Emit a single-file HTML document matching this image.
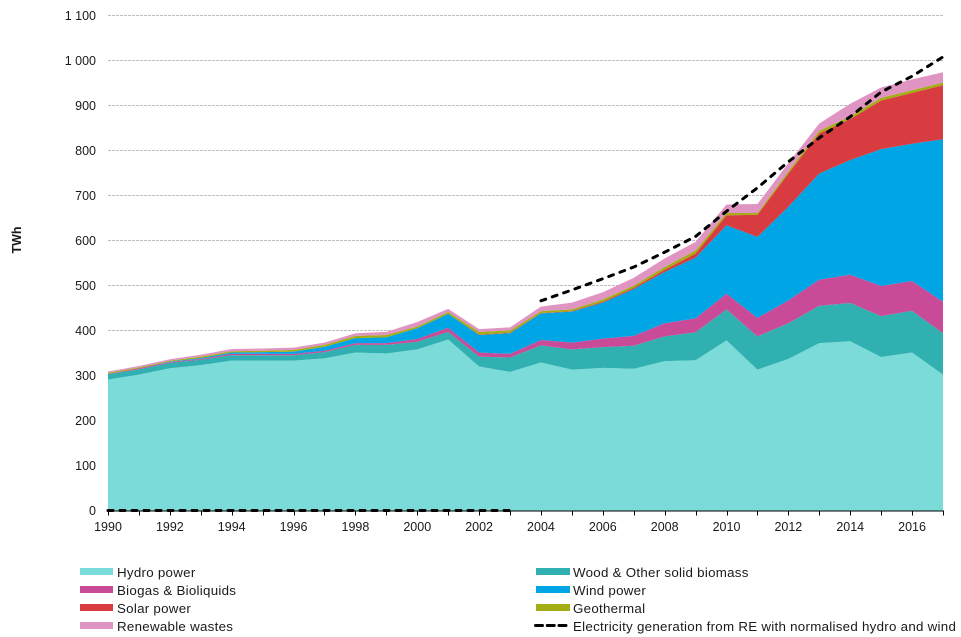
<!DOCTYPE html>
<html lang="en">
<head>
<meta charset="utf-8">
<title>Renewable electricity generation</title>
<style>
html,body{margin:0;padding:0;background:#fff;width:961px;height:637px;overflow:hidden}
svg{display:block;font-family:"Liberation Sans",Arial,sans-serif}
text{fill:#1a1a1a}
.lg{font-size:13.33px;letter-spacing:.27px}
.tk{font-size:12.5px}
</style>
</head>
<body>
<svg id="chart" xmlns="http://www.w3.org/2000/svg" width="961" height="637" viewBox="0 0 961 637">
  <g id="grid"></g>
  <g id="areas"></g>
  <g id="axes"></g>
  <g id="lines"></g>
  <text transform="translate(21,240) rotate(-90)" text-anchor="middle" font-size="12.5" font-weight="bold">TWh</text>
  <g>
    <g><rect x="80" y="568" width="33" height="7" fill="#7adbd9"/><text class="lg" x="117" y="577">Hydro power</text></g>
    <g><rect x="80" y="586" width="33" height="7" fill="#c94a96"/><text class="lg" x="117" y="595">Biogas &amp; Bioliquids</text></g>
    <g><rect x="80" y="604" width="33" height="7" fill="#d83c41"/><text class="lg" x="117" y="613">Solar power</text></g>
    <g><rect x="80" y="622" width="33" height="7" fill="#e094c2"/><text class="lg" x="117" y="631">Renewable wastes</text></g>
    <g><rect x="536" y="568" width="34" height="7" fill="#30b0b0"/><text class="lg" x="573" y="577">Wood &amp; Other solid biomass</text></g>
    <g><rect x="536" y="586" width="34" height="7" fill="#00a5e5"/><text class="lg" x="573" y="595">Wind power</text></g>
    <g><rect x="536" y="604" width="34" height="7" fill="#a5ad14"/><text class="lg" x="573" y="613">Geothermal</text></g>
    <g><line x1="535.5" y1="625.5" x2="566" y2="625.5" stroke="#000" stroke-width="3" stroke-linecap="round" stroke-dasharray="7 4.75"/><text class="lg" x="573" y="631">Electricity generation from RE with normalised hydro and wind</text></g>
  </g>
</svg>
<script>
const years = [1990,1991,1992,1993,1994,1995,1996,1997,1998,1999,2000,2001,2002,2003,2004,2005,2006,2007,2008,2009,2010,2011,2012,2013,2014,2015,2016,2017];
const hydro = [291,302,316,323,333,333,333,338,351,349,358,380,320,308,329,313,317,315,332,334,378,313,337,372,376,341,351,302];
const wood = [12,12,12,12,12,12,12,14,17,19,17,17,22,32,38,45,46,51,55,62,69,74,79,83,85,91,93,92];
const biogas = [1,2,2,2,3,3,3,3,4,4,6,9,9,8,12,15,19,22,29,31,35,41,51,58,63,67,66,70];
const wind = [0,0,1,2,3,4,5,9,11,13,24,31,39,46,59,69,80,104,114,135,152,180,208,236,255,304,305,361];
const solar = [0,0,0,0,0,0,0,0,0,0,0,0,1,1,1,1,2,3,5,9,22,49,74,89,91,108,113,120];
const geothermal = [2,2,2,3,3,3,4,4,5,5,4,4,6,5,4,4,5,5,6,7,5,4,5,6,6,6,6,6];
const wastes = [3,3,3,4,5,5,5,5,6,7,10,7,6,7,10,15,16,17,19,19,19,20,18,16,28,23,24,23];
const generation = [0,0,0,0,0,0,0,0,0,0,0,0,0,0,466,490,515,541,574,609,665,717,775,828,875,930,965,1008];
const yTicks = [0,100,200,300,400,500,600,700,800,900,1000,1100];
const yTickLabels = ["0","100","200","300","400","500","600","700","800","900","1 000","1 100"];
const xTickLabels = [1990,1992,1994,1996,1998,2000,2002,2004,2006,2008,2010,2012,2014,2016];

const NS = 'http://www.w3.org/2000/svg';
const xScale = function(year){ return 108 + (year - 1990) * (835 / 27); };
const yScale = function(v){ return 510.5 - v * (495 / 1100); };
const make = function(tag, parent){ const el = document.createElementNS(NS, tag); parent.appendChild(el); return el; };

const gridG = document.getElementById('grid');
yTicks.forEach(function(t, i){
  if (t !== 0) {
    const g = make('line', gridG);
    
    
    g.setAttribute('x1', 108); g.setAttribute('x2', 943);
    g.setAttribute('y1', Math.floor(yScale(t)) + 0.5); g.setAttribute('y2', Math.floor(yScale(t)) + 0.5);
    g.setAttribute('stroke', '#bdbdbd'); g.setAttribute('stroke-dasharray', '3 1');
  }
  const lab = make('text', gridG);
  
  
  lab.setAttribute('class', 'tk');
  lab.setAttribute('x', 96); lab.setAttribute('y', yScale(t) + 4.5);
  lab.setAttribute('text-anchor', 'end');
  lab.textContent = yTickLabels[i];
});

const layers = [
  {name:'area-hydro', values:hydro, color:'#7adbd9'},
  {name:'area-wood', values:wood, color:'#30b0b0'},
  {name:'area-biogas', values:biogas, color:'#c94a96'},
  {name:'area-wind', values:wind, color:'#00a5e5'},
  {name:'area-solar', values:solar, color:'#d83c41'},
  {name:'area-geothermal', values:geothermal, color:'#a5ad14'},
  {name:'area-wastes', values:wastes, color:'#e094c2'}
];
const areasG = document.getElementById('areas');
let base = years.map(function(){ return 0; });
layers.forEach(function(layer){
  const top = base.map(function(b, i){ return b + layer.values[i]; });
  const upper = years.map(function(y, i){ return xScale(y).toFixed(2) + ',' + yScale(top[i]).toFixed(2); });
  const lower = years.map(function(y, i){ return xScale(y).toFixed(2) + ',' + yScale(base[i]).toFixed(2); }).reverse();
  const p = make('polygon', areasG);
  
  
  p.setAttribute('points', upper.concat(lower).join(' '));
  p.setAttribute('fill', layer.color);
  base = top;
});

const axesG = document.getElementById('axes');
const axisLine = make('line', axesG);


axisLine.setAttribute('x1', 108); axisLine.setAttribute('x2', 944);
axisLine.setAttribute('y1', 511); axisLine.setAttribute('y2', 511);
axisLine.setAttribute('stroke', '#000');
years.forEach(function(y){
  const tick = make('line', axesG);
  
  
  const x = Math.round(xScale(y)) + 0.5;
  tick.setAttribute('x1', x); tick.setAttribute('x2', x);
  tick.setAttribute('y1', 511); tick.setAttribute('y2', 515.5);
  tick.setAttribute('stroke', '#000');
});
xTickLabels.forEach(function(y){
  const lab = make('text', axesG);
  
  
  lab.setAttribute('class', 'tk');
  lab.setAttribute('x', xScale(y)); lab.setAttribute('y', 531);
  lab.setAttribute('text-anchor', 'middle');
  lab.textContent = y;
});

const linesG = document.getElementById('lines');
const segments = [];
generation.forEach(function(v, i){
  const startsNew = i === 0 || (generation[i - 1] === 0 && v !== 0);
  if (startsNew) { segments.push([]); }
  segments[segments.length - 1].push(xScale(years[i]).toFixed(2) + ',' + yScale(v).toFixed(2));
});
segments.forEach(function(seg){
  const l = make('polyline', linesG);
  
  
  l.setAttribute('points', seg.join(' '));
  l.setAttribute('fill', 'none');
  l.setAttribute('stroke', '#000');
  l.setAttribute('stroke-width', '3');
  l.setAttribute('stroke-linecap', 'round');
  l.setAttribute('stroke-dasharray', '5 7');
});
</script>
</body>
</html>
